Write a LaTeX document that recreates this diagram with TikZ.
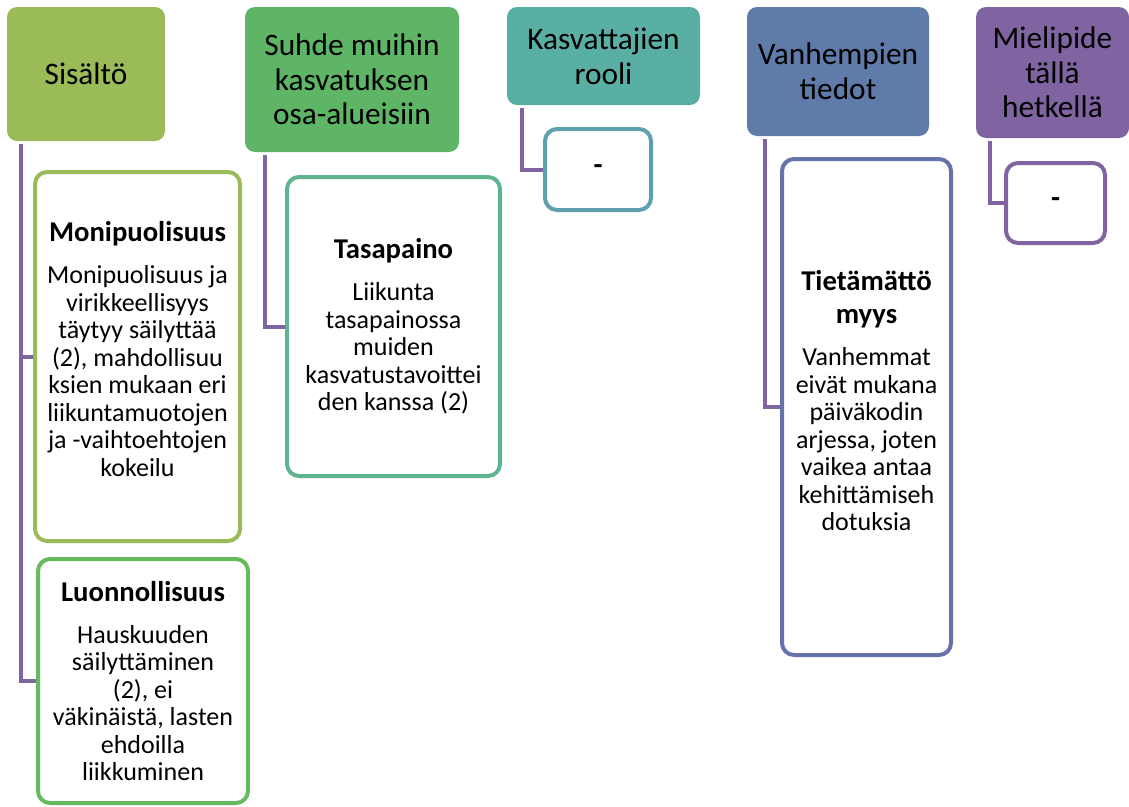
\documentclass[tikz,border=0pt]{standalone}
\usepackage{fontspec}
\setmainfont{Carlito}
\usetikzlibrary{backgrounds}
\definecolor{hsis}{HTML}{9BBB59}
\definecolor{hsuh}{HTML}{5EB566}
\definecolor{hkas}{HTML}{5AAFA4}
\definecolor{hvan}{HTML}{5F7BAA}
\definecolor{hmie}{HTML}{8064A2}
\definecolor{bmon}{HTML}{9BBB59}
\definecolor{bluo}{HTML}{66BA5E}
\definecolor{btas}{HTML}{5DB48E}
\definecolor{bkas}{HTML}{5E9FB0}
\definecolor{btie}{HTML}{6673AA}
\definecolor{bmie}{HTML}{8064A2}
\definecolor{linkpurple}{HTML}{8064A2}
\newcommand\cardtitle[1]{{\fontsize{21.5}{20.6}\selectfont\bfseries #1}}
\begin{document}
\begin{tikzpicture}[x=0.75pt,y=-0.75pt,
  head/.style={rounded corners=7.5pt, draw=none, fill=#1, align=center,
    inner sep=0pt, font=\fontsize{23.5}{26}\selectfont},
  card/.style={rounded corners=9pt, draw=#1, line width=3pt, fill=white,
    align=center, inner sep=0pt, font=\fontsize{19.5}{20.6}\selectfont},
  dashcard/.style={card=#1, font=\fontsize{22}{24}\selectfont\bfseries},
  link/.style={draw=linkpurple, line width=3pt}
]
\useasboundingbox (0,0) rectangle (1129,807);

% category headers
\node[head=hsis, minimum width=118.5pt, minimum height=100.5pt] (sis) at (86,74) {Sisältö};
\node[head=hsuh, minimum width=160.5pt, minimum height=108.75pt] (suh) at (352,79.5) {Suhde muihin\\kasvatuksen\\osa-alueisiin};
\node[head=hkas, minimum width=144.75pt, minimum height=73.5pt] (kas) at (603.5,56) {Kasvattajien\\rooli};
\node[head=hvan, minimum width=136.5pt, minimum height=96.75pt] (van) at (838,71.5) {Vanhempien\\tiedot};
\node[head=hmie, minimum width=114.75pt, minimum height=98.25pt] (mie) at (1052.5,72.5) {Mielipide\\tällä\\hetkellä};

% detail cards
\node[card=bmon, minimum width=153.75pt, minimum height=276.75pt] (mon) at (137.5,356.5)
  {\cardtitle{Monipuolisuus}\\[11pt]Monipuolisuus ja\\virikkeellisyys\\täytyy säilyttää\\(2), mahdollisuu\\ksien mukaan eri\\liikuntamuotojen\\ja -vaihtoehtojen\\kokeilu\\[-9pt]};
\node[card=bluo, minimum width=157.5pt, minimum height=183pt] (luo) at (143,681)
  {\cardtitle{Luonnollisuus}\\[11pt]Hauskuuden\\säilyttäminen\\(2), ei\\väkinäistä, lasten\\ehdoilla\\liikkuminen};
\node[card=btas, minimum width=159.75pt, minimum height=224.25pt] (tas) at (393.5,326.5)
  {\cardtitle{Tasapaino}\\[11pt]Liikunta\\tasapainossa\\muiden\\kasvatustavoittei\\den kanssa (2)};
\node[dashcard=bkas, minimum width=79.5pt, minimum height=60.75pt] (kasc) at (598,169.5) {-};
\node[card=btie, minimum width=126.75pt, minimum height=372pt] (tie) at (866.5,407)
  {\cardtitle{Tietämättö}\\[4pt]\cardtitle{myys}\\[11pt]Vanhemmat\\eivät mukana\\päiväkodin\\arjessa, joten\\vaikea antaa\\kehittämiseh\\dotuksia\\[-11pt]};
\node[dashcard=bmie, minimum width=74.25pt, minimum height=60pt] (miec) at (1055.5,203) {-};

% connectors
\begin{scope}[on background layer]
\draw[link] ([shift={(14,3)}]sis.south west) |- (mon.west);
\draw[link] ([shift={(14,3)}]sis.south west) |- (luo.west);
\draw[link] ([shift={(20,3)}]suh.south west) |- (tas.west);
\draw[link] ([shift={(15,3)}]kas.south west) |- (kasc.west);
\draw[link] ([shift={(18,3)}]van.south west) |- (tie.west);
\draw[link] ([shift={(14,3)}]mie.south west) |- (miec.west);
\end{scope}
\end{tikzpicture}
\end{document}
